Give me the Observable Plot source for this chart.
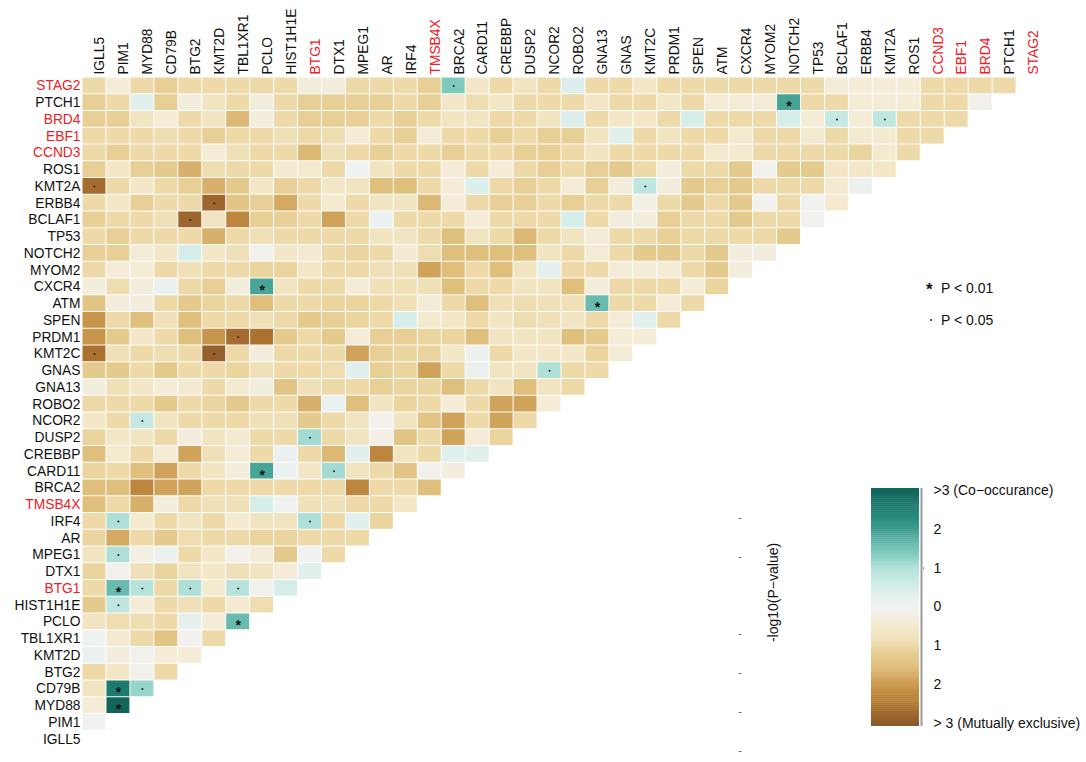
<!DOCTYPE html>
<html><head><meta charset="utf-8">
<script src="https://cdn.jsdelivr.net/npm/d3@7"></script>
<script src="https://cdn.jsdelivr.net/npm/@observablehq/plot@0.6"></script>
<style>
body{margin:0;background:#fff;}
#wrap{position:relative;width:1086px;height:762px;overflow:hidden;font-family:"Liberation Sans",Arial,sans-serif;color:#111;}
#wrap svg{position:absolute;overflow:visible;}
.leg{position:absolute;font-size:14px;line-height:16px;white-space:nowrap;}
#warn{position:absolute;left:400px;top:600px;color:red;font-size:12px;}
</style></head><body><div id="wrap"></div>
<script>
// genes: column order left→right, row order bottom→top
const genes = ["IGLL5","PIM1","MYD88","CD79B","BTG2","KMT2D","TBL1XR1","PCLO","HIST1H1E","BTG1","DTX1","MPEG1","AR","IRF4","TMSB4X","BRCA2","CARD11","CREBBP","DUSP2","NCOR2","ROBO2","GNA13","GNAS","KMT2C","PRDM1","SPEN","ATM","CXCR4","MYOM2","NOTCH2","TP53","BCLAF1","ERBB4","KMT2A","ROS1","CCND3","EBF1","BRD4","PTCH1","STAG2"];
const redGenes = ["STAG2","BRD4","EBF1","CCND3","TMSB4X","BTG1"];

// signed -log10(P): positive = co-occurrence, negative = mutual exclusivity
// logP[k] = row of genes[k], values for columns genes[0..k-1]
const logP = [
 [],
 [0.05],
 [-0.4, 3.0],
 [-0.7, 2.6, 1.2],
 [-1, -0.6, -0.1, -1],
 [0.15, -0.3, -0.1, -0.4, -0.4],
 [0.05, -0.5, -1, -1.4, -0.05, -1],
 [-0.7, -0.9, -0.9, -1, 0.2, -0.4, 1.6],
 [-1.3, 0.8, -0.4, -1, -0.8, -1, -0.5, -0.9],
 [-1, 1.6, 0.9, -1, 1.0, -0.5, 0.9, -0.1, 0.5],
 [-1.1, -0.1, -0.8, -1.1, -0.7, -0.6, -0.8, -0.7, -0.4, 0.3],
 [-0.7, 1.0, -0.2, 0.1, -1, -0.6, -0.1, -0.4, -1.3, 0.05, -1],
 [-1.1, -1.8, -1, -1.3, -0.9, -1, -1, -1.1, -1.1, -1, -1, -1],
 [-1, 1.0, -0.5, -1, -0.7, -1, -0.5, -0.7, -0.7, 1.0, -1, 0.3, -1.1],
 [-1.5, -1, -1.7, -0.3, -1, -0.8, -0.8, 0.5, 0.05, -0.8, -0.8, -1, -1, -0.6],
 [-1.5, -1.5, -2.3, -1.9, -1.9, -1, -1, -1, -1, -1, -1, -2.3, -1, -1, -1.5],
 [-1.1, -1, -1.5, -1.9, -1, -0.7, -0.3, 1.9, 0.15, -0.6, 1.1, -0.7, -1, -1.4, -0.1, -0.3],
 [-1.5, -0.5, -1, -0.4, -1.9, -0.8, -0.4, -1, 0.15, -1, -1.6, 0.3, -2.3, -0.7, -1, 0.3, 0.3],
 [-1.1, -0.6, -0.7, -1, -0.3, -0.7, -0.5, -1, -1, 1.1, -1, -0.7, -0.2, -1.4, -1, -1.9, -0.4, -1.1],
 [-0.6, -1, 0.7, -0.7, -1, -1, -1, -0.8, -0.8, -1.3, -1, -0.7, -0.1, -0.7, -1.4, -1.9, -1, -1.9, -1],
 [-1, -1, -1, -1.3, -1, -1.1, -1.3, -1, -1, -1.7, 0.15, -1.5, -0.7, -1.1, -1, -0.4, -1, -1.9, -1.9, -0.4],
 [-0.3, -0.8, -0.6, -0.4, -0.5, -1, -0.5, -0.3, -1.4, -0.8, -1, -1, -1.2, -1.1, -1.1, -1.5, -1, -0.7, -1.5, -0.7, -1],
 [-1.3, -1.3, -1, -1.3, -1, -1, -1.1, -0.8, -1, -1, -0.9, 0.3, -1.2, -1.1, -1.9, -1, 0.1, -0.7, -0.7, 1.0, -1, -1],
 [-2.6, -0.8, -1, -0.9, -1, -2.9, -1, -0.3, -1, -1, -1, -1.9, -1.2, -1.1, -1.1, -0.6, 0.1, -1, -0.6, -0.6, -0.6, -1.1, -0.4],
 [-2.1, -1.3, -0.6, -1, -1.5, -2.1, -2.7, -2.6, -1.3, -1, -1.3, -0.4, -1.2, -1.2, -1.1, -1.1, -1.5, -0.7, -0.7, -0.7, -1.5, -1.3, -0.4, -0.4],
 [-2.1, -1, -1.5, -0.8, -1.5, -1, -1, -0.8, -1, -1.3, -1.2, -1.1, -1, 0.5, -0.5, -0.6, -1, -0.7, -0.9, -0.8, -0.7, -1, -0.4, 0.3, -1],
 [-1.4, -0.3, -0.3, -1, -1.3, -1.1, -1, -1.5, -1, -1, -1.1, -1.1, -1, -0.8, -0.4, -1, -1.5, -0.8, -0.9, -0.8, -0.8, 1.6, -1, -1, -0.4, -1],
 [-0.3, -0.9, -0.3, 0.15, -1, -1.2, -0.3, 1.9, -0.7, -1, -1, -0.4, -0.8, -0.8, -0.8, -1.5, -1, -1, -0.7, -0.7, -1.5, -0.3, -1, -1, -1, -0.4, -1.1],
 [-1, -0.4, -0.4, -1, -0.8, -1, -1, -1.1, -1.1, -0.6, -1, -1, -0.8, -0.8, -1.9, -1.5, -1, -1.5, -0.7, 0.25, -1, -1, -0.4, -0.4, -0.4, -1, -1.3, -0.3],
 [-1.2, -1.2, -0.4, -0.6, 0.5, -0.6, -0.8, -0.1, -0.6, -0.5, -1, -1.1, -1, -0.5, -0.9, -1.5, -1.5, -1.5, -1.5, -0.7, -1, -0.4, -1, -1.3, -1.3, -1, -1.3, -0.3, -0.3],
 [-1, -1.2, -1, -1, -1, -1.7, -1, -0.8, -1, -1, -1, -1, -0.7, -0.7, -1, -1.5, -0.7, -1, -1.6, -1, -0.7, -0.4, -1, -1, -1.2, -1, -1, -1, -1, -1.3],
 [-1.2, -1, -1, -0.8, -2.8, -0.7, -2.3, -1.2, -1.2, -1, -1.9, -1, 0.15, -1, -1, -1, -0.4, -1, -1, -1, 0.5, -1, -0.3, -0.3, -1.2, -1, -1, -1.3, -1, -1, -0.05],
 [-1, -0.6, -1.2, -1, -1, -2.8, -1.4, -1.2, -1.8, -1, -0.5, -1, -0.7, -0.7, -1.6, -0.4, -1, -1.2, -1.2, -1, -1.2, -1, -1, -0.2, -1, -1.3, -1, -1.3, -0.05, -1, -0.05, -0.5],
 [-2.7, -1, -0.6, -1, -1.2, -1.7, -1.3, -0.6, -1.2, -1, -0.6, -0.7, -1.5, -1.5, -1, -0.4, 0.4, -1, -1.2, -1, -0.4, -1.2, -0.3, 0.8, -0.3, -1.3, -1.2, -1.3, -1, -1, -1, -0.5, 0.1],
 [-1.2, -0.6, -1.2, -1.3, -1.7, -0.9, -1, -1, -0.5, -0.5, -1, 0.05, -0.7, -1, -1, -0.4, -1, -0.4, -1, -1.2, -1, -1.2, -1.3, -1, -0.3, -1, -1, -1.3, -0.05, -1.3, -1.3, -0.6, -0.6, -0.6],
 [-1, -1.2, -1, -1, -1, -0.4, -0.8, -1, -1, -1.6, -0.8, -1, -1.2, -1, -1, -1.2, -1, -1, -1.2, -1.2, -1, -0.7, -1, -1, -1, -1, -0.5, -0.5, -1, -1, -1, -1, -1.1, -0.5, -1],
 [-1, -1, -1, -0.9, -1, -1.2, -1, -1, -0.8, -1, -0.9, -0.4, -1, -1.2, -0.4, -1, -1, -1.2, -1, -1.2, -1.2, -0.7, 0.3, -1, -0.7, -1, -1, -0.5, -1, -1, -0.5, -1, -0.5, -0.5, -1, -1],
 [-1.2, -1.2, -0.7, -0.4, -1, -0.7, -1.6, -0.3, -1, -1.2, -1.2, -1.2, -1, -1.2, -1, -0.7, -0.7, -1, -1, -0.7, 0.4, -1, -0.6, -0.6, -1, 0.5, -1, -1, -1, 0.5, -0.4, 0.7, -0.4, 0.8, -1, -1, -1],
 [-1.2, -1, 0.3, -1.2, -0.3, -0.7, -1, -0.3, -1, -1.2, -1.2, -1.2, -1.2, -1, -1.2, -0.6, -0.9, -0.6, -1, -1, -1, -0.6, -1, -1, -0.6, -1, -0.4, -0.4, -0.4, 1.9, -1, -1, -0.4, -0.4, -0.4, -1, -1, -0.1],
 [-1, -0.4, -1, -1.2, -1, -1, -1, -1, -1, -0.3, -0.3, -1, -1, -1, -1.2, 1.4, -0.6, -1, -0.7, -1, 0.4, -1, -1, -0.6, -1, -1, -1, -1, -1, -1, -1, -0.4, -0.4, -0.4, -0.4, -1, -1, -1, -1]
];

// significance marks
const sigRow  = ["STAG2","PTCH1","BRD4","BRD4","KMT2A","KMT2A","ERBB4","BCLAF1","CXCR4","ATM","PRDM1","KMT2C","KMT2C","GNAS","NCOR2","DUSP2","CARD11","CARD11","IRF4","IRF4","MPEG1","BTG1","BTG1","BTG1","BTG1","HIST1H1E","PCLO","CD79B","CD79B","MYD88"];
const sigCol  = ["BRCA2","NOTCH2","BCLAF1","KMT2A","IGLL5","KMT2C","KMT2D","BTG2","PCLO","GNA13","TBL1XR1","IGLL5","KMT2D","NCOR2","MYD88","BTG1","PCLO","DTX1","PIM1","BTG1","PIM1","PIM1","MYD88","BTG2","TBL1XR1","PIM1","TBL1XR1","PIM1","MYD88","PIM1"];
const sigMark = ["·","*","·","·","·","·","·","·","*","*","·","·","·","·","·","·","*","·","·","·","·","*","·","·","·","·","*","*","·","*"];

// colour bar ticks
const cbTicks  = [3, 2, 1, 0, -1, -2, -3];
const cbLabels = [">3 (Co\u2212occurance)", "2", "1", "0", "1", "2", "> 3 (Mutually exclusive)"];
const ghostTicks = [2.3, 1.3, -0.7, -1.7, -2.7, -3.7];

const colorDomain = [-3,-2.5,-2,-1.5,-1,-0.5,0,0.5,1,1.5,2,2.5,3];
const colorRange  = ["#8e5a2c","#b27830","#cc9c52","#dfbf7c","#eddaa8","#f4ead0","#f2f2f2","#d6eeea","#afe0d8","#74c3b6","#3c9d8f","#1f7f71","#13645a"];
const RED = "#ec2127";
const FONT = "Liberation Sans, Arial, sans-serif";

const wrap = document.getElementById("wrap");
let bad = [];
logP.forEach((r,k)=>{ if (r.length !== k) bad.push(genes[k]+":"+r.length); });

const cells = [];
logP.forEach((row,k)=>row.forEach((v,c)=>cells.push({row:genes[k], col:genes[c], v})));
const sig = sigRow.map((r,i)=>({row:r, col:sigCol[i], mark:sigMark[i]}));
const blackGenes = genes.filter(g=>!redGenes.includes(g));

const colorOpts = {type:"linear", domain:colorDomain, range:colorRange, clamp:true};

const main = Plot.plot({
  width:1086, height:762,
  marginLeft:82, marginTop:77, marginRight:46, marginBottom:15,
  x:{type:"band", domain:genes, padding:0, round:false, axis:null},
  y:{type:"band", domain:genes.slice().reverse(), padding:0, round:false, axis:null},
  color:colorOpts,
  style:{fontFamily:FONT, background:"transparent"},
  marks:[
    Plot.cell(cells,{x:"col", y:"row", fill:"v", inset:0.5}),
    Plot.text(sig.filter(d=>d.mark==="*"),{x:"col", y:"row", text:()=>"*", fontSize:14, fontWeight:"bold", dy:4, fill:"#111"}),
    Plot.dot(sig.filter(d=>d.mark!=="*"),{x:"col", y:"row", r:1, fill:"#222", stroke:"none"}),
    Plot.text(blackGenes,{x:d=>d, frameAnchor:"top", rotate:-90, textAnchor:"start", dy:-3, fontSize:13.8, fill:"#111"}),
    Plot.text(redGenes,{x:d=>d, frameAnchor:"top", rotate:-90, textAnchor:"start", dy:-3, fontSize:13.8, fill:RED}),
    Plot.text(blackGenes,{y:d=>d, frameAnchor:"left", textAnchor:"end", dx:-2, fontSize:13.8, fill:"#111"}),
    Plot.text(redGenes,{y:d=>d, frameAnchor:"left", textAnchor:"end", dx:-2, fontSize:13.8, fill:RED})
  ]
});
main.style.left = "0px"; main.style.top = "0px";
wrap.appendChild(main);

// colour bar
const step = 0.05;
const steps = d3.range(-3.08, 3.05, step);
const labelOf = new Map(cbTicks.map((t,i)=>[t, cbLabels[i]]));
const cb = Plot.plot({
  width:366, height:282,
  marginLeft:151, marginRight:167, marginTop:8, marginBottom:36,
  x:{domain:[0,1], axis:null},
  y:{domain:[-3.08,3.05], axis:null},
  color:colorOpts,
  style:{fontFamily:FONT, fontSize:"14px", background:"transparent", overflow:"visible"},
  marks:[
    Plot.rect(steps,{x1:0, x2:1, y1:d=>d, y2:d=>Math.min(d+step+0.01, 3.05), fill:d=>d+step/2}),
    Plot.ruleX([1],{dx:2, stroke:"#9a9a9a", strokeWidth:2}),
    Plot.axisY(cbTicks,{anchor:"right", tickSize:0, tickPadding:14, tickFormat:d=>labelOf.get(d), fontSize:14, fill:"#111"}),
    Plot.dot([1],{x:1, y:d=>d, dx:4, r:0.7, fill:"#333", stroke:"none"}),
    Plot.text(ghostTicks,{y:d=>d, frameAnchor:"left", textAnchor:"start", text:()=>"-", dx:-133, fontSize:10, fill:"#555"}),
    Plot.text(["-log10(P\u2212value)"],{frameAnchor:"left", textAnchor:"middle", rotate:-90, dx:-98, dy:-15, fontSize:14, fill:"#111"})
  ]
});
cb.style.left = "720px"; cb.style.top = "480px";
wrap.appendChild(cb);

// significance legend
function addLeg(html, left, top, extra){
  const d = document.createElement("div");
  d.className = "leg"; d.innerHTML = html;
  d.style.left = left+"px"; d.style.top = top+"px";
  if (extra) Object.assign(d.style, extra);
  wrap.appendChild(d);
}
addLeg("*", 926, 282, {fontSize:"17px", fontWeight:"bold"});
addLeg("P &lt; 0.01", 941, 280);
addLeg("", 930, 319, {width:"2px", height:"2px", background:"#222", borderRadius:"1px"});
addLeg("P &lt; 0.05", 941, 312);

if (bad.length) { const w=document.createElement("div"); w.id="warn"; w.textContent="len mismatch: "+bad.join(", "); wrap.appendChild(w); }
</script>
</body></html>
